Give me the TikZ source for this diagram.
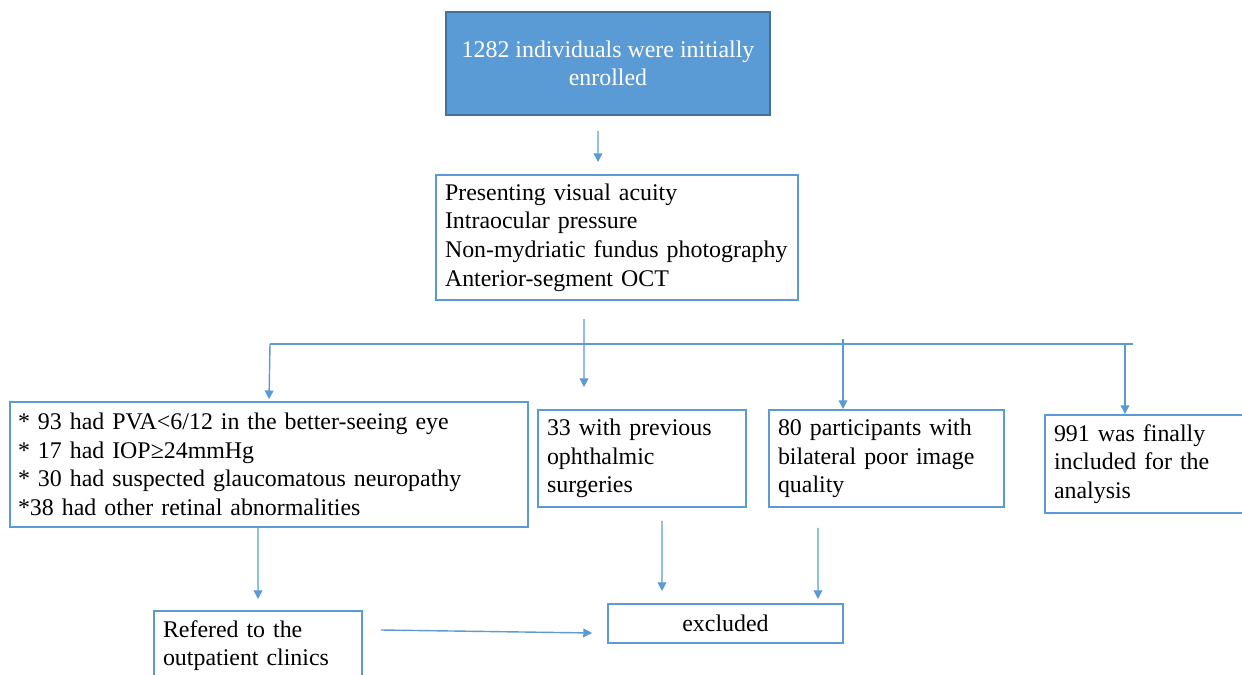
\documentclass[tikz,border=0pt]{standalone}
\usepackage{fontspec}
\setmainfont{Liberation Serif}
\usepackage{tikz}
\usetikzlibrary{arrows.meta,positioning,calc}
\definecolor{fcblue}{RGB}{91,155,213}
\definecolor{fcdarkblue}{RGB}{65,113,156}
\tikzstyle{arrow} = [line width=0.8pt,-{Triangle[width=5pt,length=5pt]},color=fcblue]
\tikzstyle{barline} = [line width=0.8pt,color=fcblue]
\tikzstyle{flowbox} = [rectangle, draw=fcblue, line width=1.1pt, fill=white, inner xsep=0.18cm, align=left, font=\fontsize{13.6}{16.3}\selectfont]
\tikzstyle{startbox} = [rectangle, draw=fcdarkblue, line width=1pt, fill=fcblue, text=white, align=center, font=\fontsize{13.6}{16.3}\selectfont]

\begin{document}
\begin{tikzpicture}[x=0.02cm,y=-0.02cm]
\useasboundingbox (0,0) rectangle (1242,675);
\clip (0,0) rectangle (1242,675);

% Enrolment
\node[startbox, minimum width=6.48cm, minimum height=2.06cm] (enrolled) at (608,63.5) {1282 individuals were initially\\enrolled};

% Examinations
\node[flowbox, minimum width=7.24cm, minimum height=2.5cm, text width=6.88cm] (tests) at (617,237.5) {Presenting visual acuity\\Intraocular pressure\\Non-mydriatic fundus photography\\Anterior-segment OCT};

% Branches
\node[flowbox, minimum width=10.36cm, minimum height=2.5cm, text width=10.04cm, inner xsep=0.16cm] (criteria) at (269,464.5) {* 93 had PVA<6/12 in the better-seeing eye\\{}* 17 had IOP≥24mmHg\\{}* 30 had suspected glaucomatous neuropathy\\{}*38 had other retinal abnormalities};
\node[flowbox, minimum width=4.16cm, minimum height=1.94cm, text width=3.8cm] (surgery) at (642,458.5) {33 with previous\\ophthalmic\\surgeries};
\node[flowbox, minimum width=4.7cm, minimum height=1.94cm, text width=4.34cm] (imgquality) at (886.5,458.5) {80 participants with\\bilateral poor image\\quality};
\node[flowbox, minimum width=4.1cm, minimum height=1.96cm, text width=3.74cm] (included) at (1147.5,464) {991 was finally\\included for the\\analysis};

% Outcomes
\node[flowbox, minimum width=4.16cm, minimum height=1.38cm, text width=3.8cm] (referred) at (258,645.5) {Refered to the\\outpatient clinics};
\node[flowbox, minimum width=4.7cm, minimum height=0.78cm, align=center] (excluded) at (725.5,623.5) {excluded};

% Arrows
\coordinate (barL) at (270,344);
\coordinate (barR) at (1133,344);
\draw[arrow] ([xshift=-0.2cm,yshift=-0.3cm]enrolled.south) -- ([xshift=-0.38cm,yshift=0.24cm]tests.north);
\draw[barline] (barL) -- (barR);
\draw[arrow] ([xshift=-0.66cm,yshift=-0.36cm]tests.south) -- ([xshift=-1.16cm,yshift=0.44cm]surgery.north);
\draw[arrow] (barL) -- ([yshift=1pt]criteria.north);
\draw[arrow] ([xshift=-0.87cm,yshift=1.4cm]imgquality.north) -- ([xshift=-0.87cm]imgquality.north);
\draw[arrow] ([xshift=-0.45cm,yshift=1.4cm]included.north) -- ([xshift=-0.45cm]included.north);
\draw[arrow] ([xshift=-0.22cm]criteria.south) -- ([yshift=0.22cm]referred.north);
\draw[arrow] ([xshift=0.4cm,yshift=-0.26cm]surgery.south) -- ([xshift=-1.27cm,yshift=0.24cm]excluded.north);
\draw[arrow] ([xshift=-1.37cm,yshift=-0.4cm]imgquality.south) -- ([xshift=1.85cm,yshift=0.08cm]excluded.north);
\draw[arrow] ([xshift=0.36cm,yshift=0.31cm]referred.east) -- ([xshift=-0.3cm,yshift=-0.19cm]excluded.west);
\end{tikzpicture}
\end{document}
